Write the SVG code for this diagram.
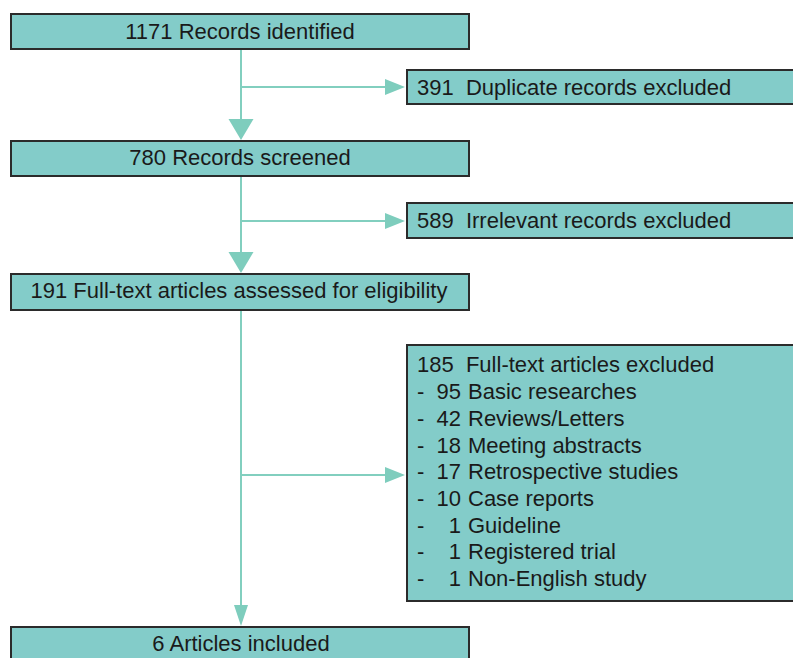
<svg xmlns="http://www.w3.org/2000/svg" width="793" height="658" viewBox="0 0 793 658">
<style>
.box{fill:#83CCC9;stroke:#2b2b2b;stroke-width:2}
.t{font-family:"Liberation Sans",Arial,sans-serif;font-size:22px;fill:#1a1a1a}
.c{text-anchor:middle}
.ln{stroke:#82CFBF;stroke-width:2;fill:none}
.ah{fill:#7ECDBD}
</style>
<rect width="793" height="658" fill="#ffffff"/>
<g id="connectors">
<line class="ln" x1="241" y1="49" x2="241" y2="121"/>
<polygon class="ah" points="228.5,119 253.5,119 241,140"/>
<line class="ln" x1="241" y1="87" x2="387" y2="87"/>
<polygon class="ah" points="385,79 385,95 405,87"/>
<line class="ln" x1="241" y1="176" x2="241" y2="254"/>
<polygon class="ah" points="228.5,252 253.5,252 241,273"/>
<line class="ln" x1="241" y1="221" x2="387" y2="221"/>
<polygon class="ah" points="385,213 385,229 405,221"/>
<line class="ln" x1="241" y1="310" x2="241" y2="607"/>
<polygon class="ah" points="234,605 248,605 241,626"/>
<line class="ln" x1="241" y1="475" x2="387" y2="475"/>
<polygon class="ah" points="385,467 385,483 405,475"/>
</g>
<g id="n1"><rect class="box" x="11" y="14" width="458" height="35"/><text class="t c" x="240" y="39">1171 Records identified</text></g>
<g id="n2"><rect class="box" x="407" y="70" width="400" height="34"/><text class="t" x="417" y="95" xml:space="preserve">391  Duplicate records excluded</text></g>
<g id="n3"><rect class="box" x="11" y="141" width="458" height="35"/><text class="t c" x="240" y="165">780 Records screened</text></g>
<g id="n4"><rect class="box" x="407" y="203" width="400" height="35"/><text class="t" x="417" y="228" xml:space="preserve">589  Irrelevant records excluded</text></g>
<g id="n5"><rect class="box" x="11" y="274" width="458" height="36"/><text class="t c" x="239" y="298">191 Full-text articles assessed for eligibility</text></g>
<g id="n6"><rect class="box" x="407" y="345" width="400" height="256"/>
<text class="t" x="417" y="372" xml:space="preserve">185  Full-text articles excluded</text>
<text class="t" x="417" y="399">-</text><text class="t" x="461" y="399" text-anchor="end">95</text><text class="t" x="468" y="399">Basic researches</text>
<text class="t" x="417" y="426">-</text><text class="t" x="461" y="426" text-anchor="end">42</text><text class="t" x="468" y="426">Reviews/Letters</text>
<text class="t" x="417" y="453">-</text><text class="t" x="461" y="453" text-anchor="end">18</text><text class="t" x="468" y="453">Meeting abstracts</text>
<text class="t" x="417" y="479">-</text><text class="t" x="461" y="479" text-anchor="end">17</text><text class="t" x="468" y="479">Retrospective studies</text>
<text class="t" x="417" y="506">-</text><text class="t" x="461" y="506" text-anchor="end">10</text><text class="t" x="468" y="506">Case reports</text>
<text class="t" x="417" y="533">-</text><text class="t" x="461" y="533" text-anchor="end">1</text><text class="t" x="468" y="533">Guideline</text>
<text class="t" x="417" y="559">-</text><text class="t" x="461" y="559" text-anchor="end">1</text><text class="t" x="468" y="559">Registered trial</text>
<text class="t" x="417" y="586">-</text><text class="t" x="461" y="586" text-anchor="end">1</text><text class="t" x="468" y="586">Non-English study</text>
</g>
<g id="n7"><rect class="box" x="11" y="627" width="458" height="40"/><text class="t c" x="241" y="651">6 Articles included</text></g>
</svg>
